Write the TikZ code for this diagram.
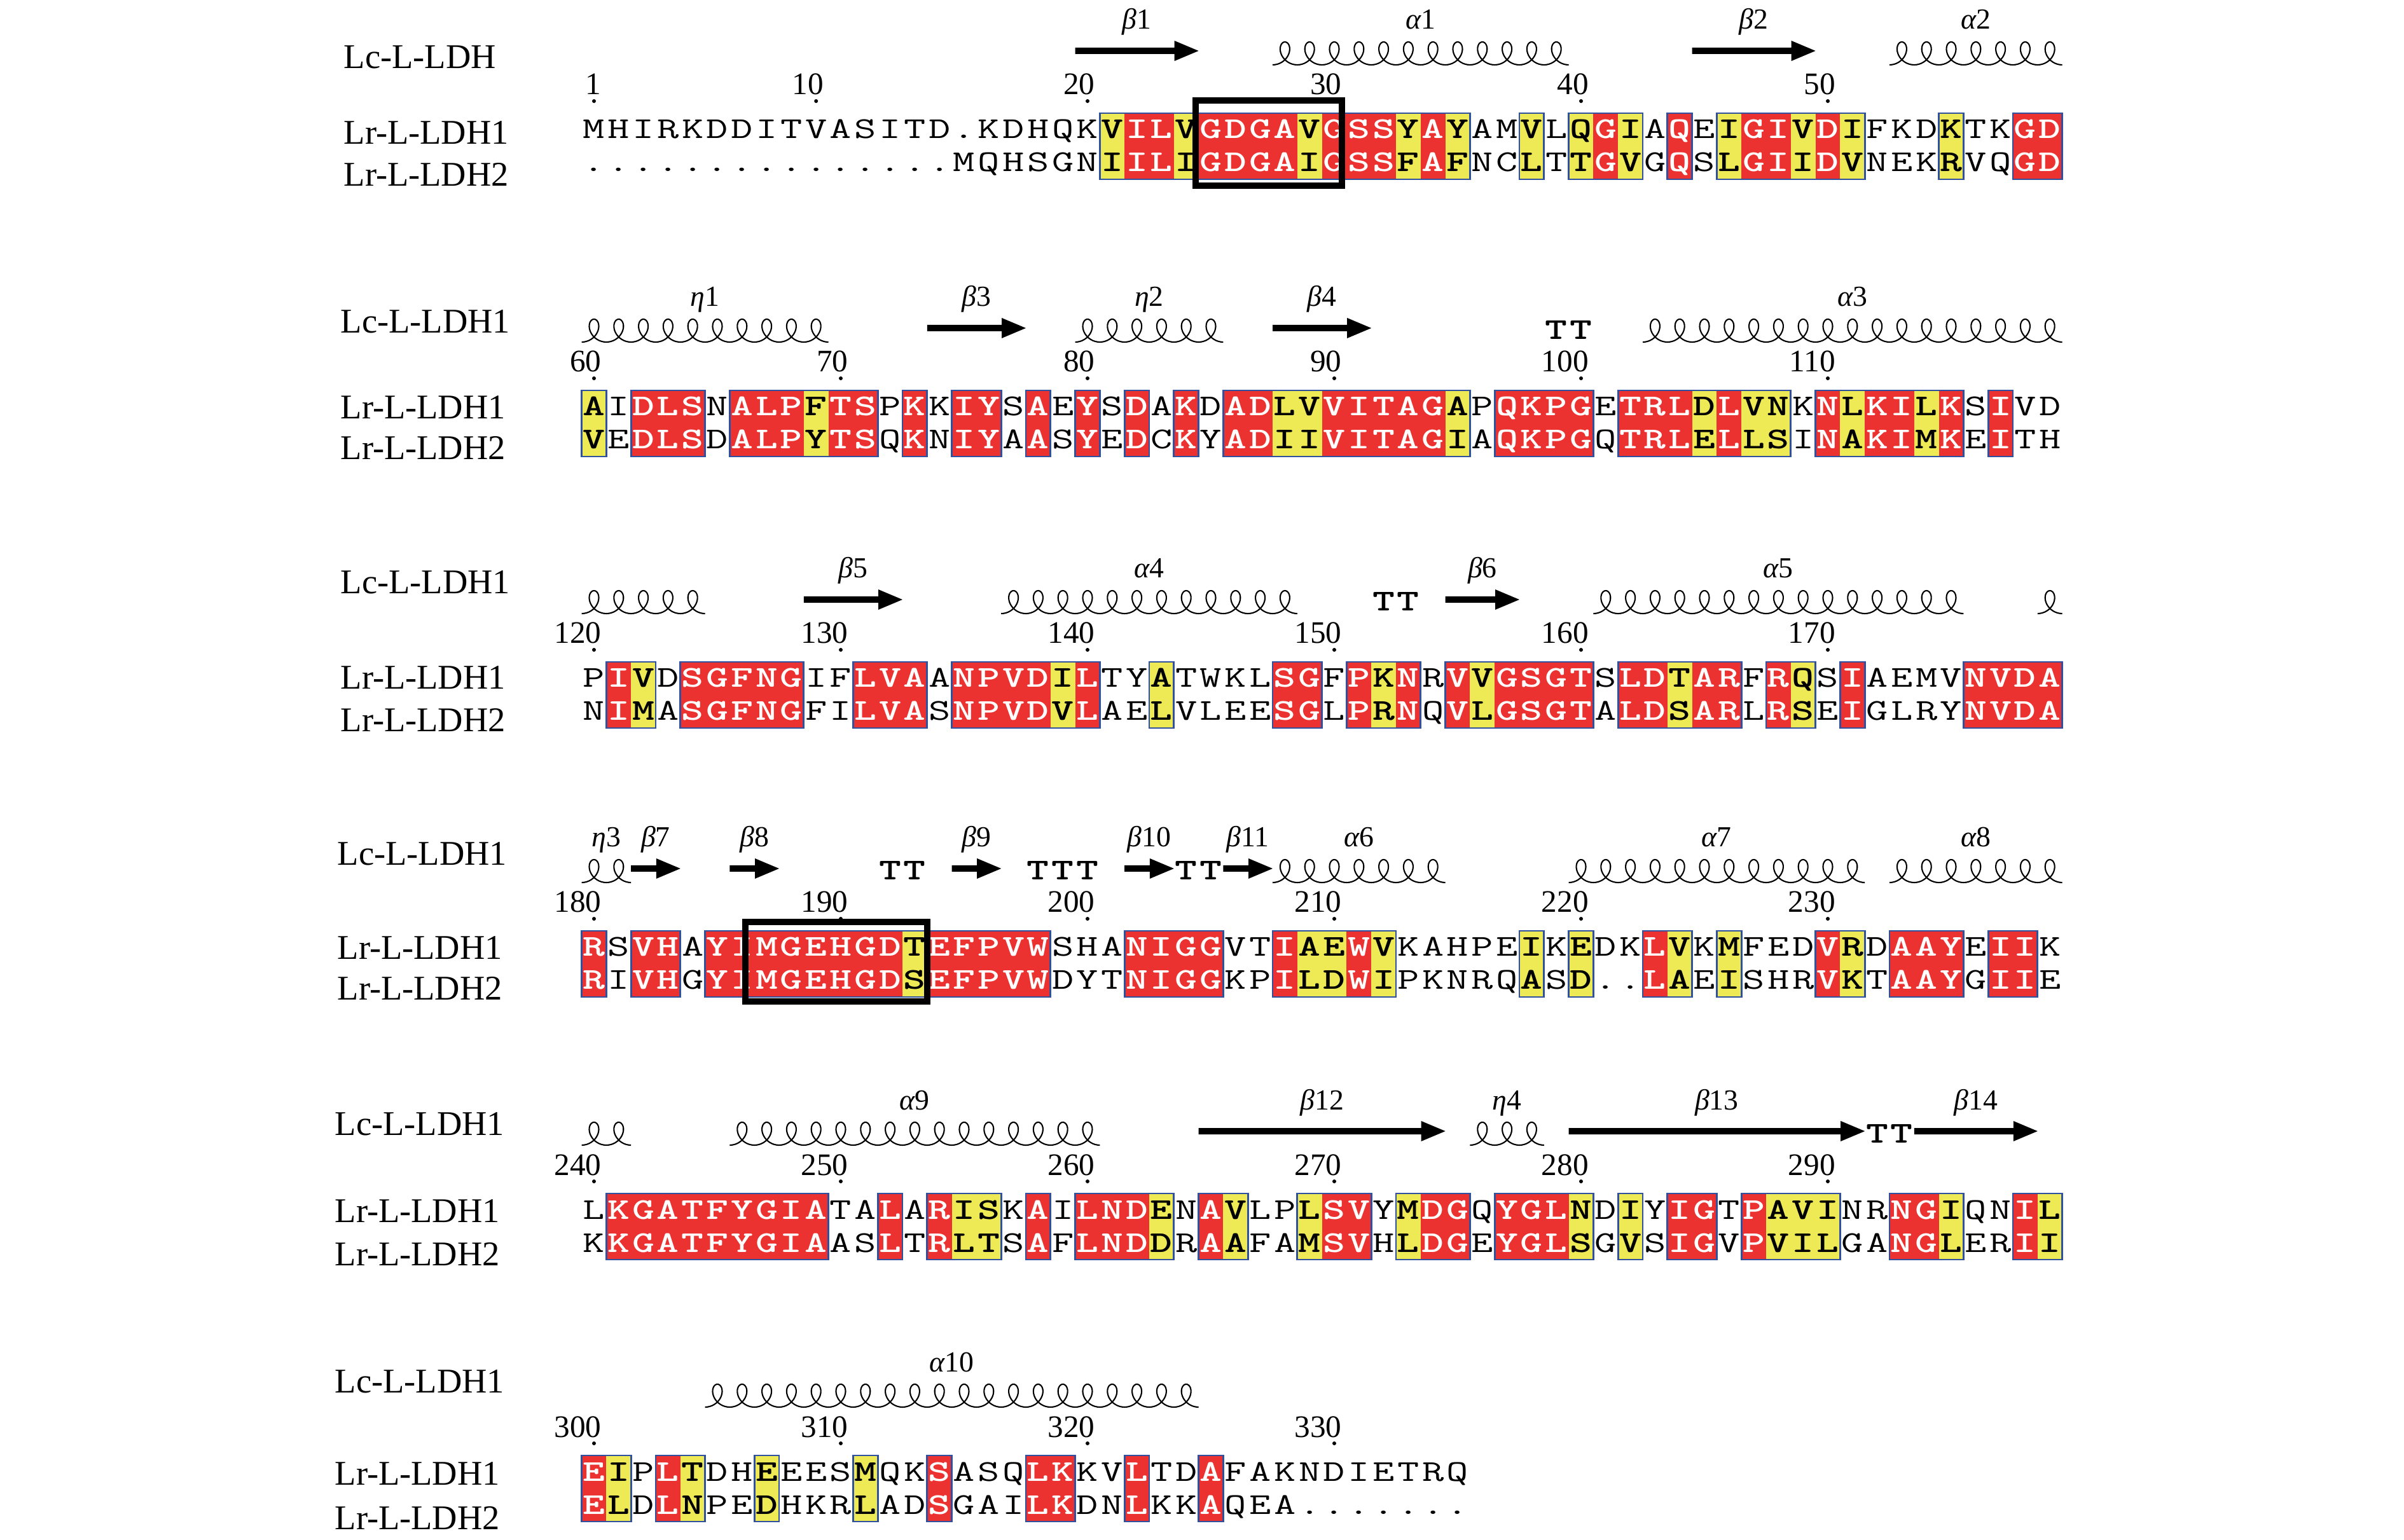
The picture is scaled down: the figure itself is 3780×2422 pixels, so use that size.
\documentclass[tikz,border=0pt]{standalone}
\usepackage{fontspec}
\setmainfont{Liberation Serif}
\usepackage{graphicx}
\usepackage{xstring}

\definecolor{identred}{RGB}{236,50,48}
\definecolor{simyellow}{RGB}{237,234,85}
\definecolor{groupblue}{RGB}{48,80,160}

\tikzset{
  seqname/.style={inner sep=0pt, font=\fontsize{15.5}{16}\selectfont},
  numtext/.style={inner sep=0pt, font=\fontsize{14}{14}\selectfont},
  sslab/.style={inner sep=0pt, font=\fontsize{13}{13}\selectfont},
  resplain/.style={inner sep=0pt, font=\fontsize{13.5}{14}\selectfont\ttfamily},
  resbold/.style={inner sep=0pt, font=\fontsize{13.5}{14}\selectfont\ttfamily\bfseries},
  helixline/.style={line width=0.6pt, line join=round},
  groupline/.style={groupblue, line width=0.8pt, line cap=rect},
  motifbox/.style={line width=2.8pt},
}

\newcommand{\gk}[1]{{\itshape #1}}
\newcommand{\wide}[1]{\scalebox{1.4}[1]{#1}}

% two aligned rows: id, y of first row, columns, sequences, codes (padded with n)
\newcommand{\alnrows}[6]{%
  \foreach \c in {1,...,#3}{
    \pgfmathtruncatemacro\ci{\c+1}
    \StrChar{#6}{\ci}[\kc]
    \pgfmathsetmacro\xc{934+(\c-1)*38.8}
    \if r\kc \fill[identred] (\xc-19.4,#2-26) rectangle (\xc+19.4,#2+78); \fi
    \if y\kc \fill[simyellow] (\xc-19.4,#2-26) rectangle (\xc+19.4,#2+78); \fi
  }
  \foreach \c in {1,...,#3}{
    \pgfmathtruncatemacro\cq{\c}
    \pgfmathtruncatemacro\ci{\c+1}
    \pgfmathtruncatemacro\cs{\c+2}
    \StrChar{#6}{\cq}[\kp]
    \StrChar{#6}{\ci}[\kc]
    \StrChar{#6}{\cs}[\kn]
    \StrChar{#4}{\c}[\ra]
    \StrChar{#5}{\c}[\rb]
    \pgfmathsetmacro\xc{934+(\c-1)*38.8}
    \if n\kc
      \node[resplain, anchor=base] (#1a\c) at (\xc,#2+14) {\wide{\ra}};
      \node[resplain, anchor=base] (#1b\c) at (\xc,#2+66) {\wide{\rb}};
    \else
      \draw[groupline] (\xc-19.4,#2-26) -- (\xc+19.4,#2-26);
      \draw[groupline] (\xc-19.4,#2+78) -- (\xc+19.4,#2+78);
      \if n\kp \draw[groupline] (\xc-19.4,#2-26) -- (\xc-19.4,#2+78); \fi
      \if n\kn \draw[groupline] (\xc+19.4,#2-26) -- (\xc+19.4,#2+78); \fi
      \if r\kc \def\rescol{white}\else\def\rescol{black}\fi
      \node[resbold, text=\rescol, anchor=base] (#1a\c) at (\xc,#2+14) {\wide{\ra}};
      \node[resbold, text=\rescol, anchor=base] (#1b\c) at (\xc,#2+66) {\wide{\rb}};
    \fi
  }
}

\newcommand{\postick}[4]{%
  \pgfmathsetmacro\xc{934+(#3-1)*38.8}
  \node[numtext, anchor=base east] (#1) at (\xc+12.3,#2-55) {#4};
  \fill (\xc,#2-45) circle[radius=0.03cm];
}

\newcommand{\blockticks}[4]{%
  \foreach \k in {1,...,#4}{
    \pgfmathtruncatemacro\tc{10*(\k-1)+1}
    \pgfmathtruncatemacro\tn{#3+10*(\k-1)}
    \postick{#1n\k}{#2}{\tc}{\tn}
  }
}

\newcommand{\ssstrand}[5]{%
  \pgfmathsetmacro\xa{934+(#3-1)*38.8-19.4}
  \pgfmathsetmacro\xb{934+(#4-1)*38.8+19.4}
  \fill (\xa,#2-129) -- (\xb-38,#2-129) -- (\xb-38,#2-140) -- (\xb,#2-124)
    -- (\xb-38,#2-108) -- (\xb-38,#2-119) -- (\xa,#2-119) -- cycle;
  \node[sslab, anchor=base] (#1) at ({(\xa+\xb)/2},#2-158) {#5};
}

% one loop per residue
\newcommand{\sshelix}[5]{%
  \pgfmathsetmacro\xa{934+(#3-1)*38.8-19.4}
  \pgfmathsetmacro\xb{934+(#4-1)*38.8+19.4}
  \pgfmathsetmacro\tend{360*(#4-#3+1)}
  \pgfmathtruncatemacro\nsmp{36*(#4-#3+1)+1}
  \draw[helixline] plot[domain=0:\tend, samples=\nsmp, smooth]
    ({\xa+0.107774*\x+16*sin(\x)},{#2-120+18*cos(\x)});
  \node[sslab, anchor=base] (#1) at ({(\xa+\xb)/2},#2-158) {#5};
}

\newcommand{\ssturn}[3]{%
  \pgfmathsetmacro\xc{934+(#3-1)*38.8}
  \node[resbold, anchor=base] (#1) at (\xc,#2-106) {\wide{T}};
}

\begin{document}
\begin{tikzpicture}[x=0.01cm, y=-0.01cm]
\useasboundingbox (0,0) rectangle (3780,2422);

% block 1
\node[seqname, anchor=base west] (lc1) at (540,108) {Lc-L-LDH};
\node[seqname, anchor=base west] (lra1) at (540,227) {Lr-L-LDH1};
\node[seqname, anchor=base west] (lrb1) at (540,293) {Lr-L-LDH2};
\alnrows{b1}{204}{60}{MHIRKDDITVASITD.KDHQKVILVGDGAVGSSYAYAMVLQGIAQEIGIVDIFKDKTKGD}{...............MQHSGNIILIGDGAIGSSFAFNCLTTGVGQSLGIIDVNEKRVQGD}{nnnnnnnnnnnnnnnnnnnnnnyrryrrrryrrryrynnynyrynrnyrryrynnnynnrrn}
\postick{b1n0}{204}{1}{1}
\postick{b1n1}{204}{10}{10}
\foreach \k in {2,...,5}{
  \pgfmathtruncatemacro\tc{10*\k+1}
  \pgfmathtruncatemacro\tn{10*\k}
  \postick{b1n\k}{204}{\tc}{\tn}
}
\ssstrand{b1s1}{204}{21}{25}{\gk{β}1}
\sshelix{b1h1}{204}{29}{40}{\gk{α}1}
\ssstrand{b1s2}{204}{46}{50}{\gk{β}2}
\sshelix{b1h2}{204}{54}{60}{\gk{α}2}

% block 2
\node[seqname, anchor=base west] (lc2) at (535,524) {Lc-L-LDH1};
\node[seqname, anchor=base west] (lra2) at (535,659) {Lr-L-LDH1};
\node[seqname, anchor=base west] (lrb2) at (535,723) {Lr-L-LDH2};
\alnrows{b2}{640}{60}{AIDLSNALPFTSPKKIYSAEYSDAKDADLVVITAGAPQKPGETRLDLVNKNLKILKSIVD}{VEDLSDALPYTSQKNIYAASYEDCKYADIIVITAGIAQKPGQTRLELLSINAKIMKEITH}{nynrrrnrrryrrnrnrrnrnrnrnrnrryyrrrrrynrrrrnrrryryynryrryrnrnnn}
\blockticks{b2}{640}{60}{6}
\sshelix{b2h1}{640}{1}{10}{\gk{η}1}
\ssstrand{b2s3}{640}{15}{18}{\gk{β}3}
\sshelix{b2h2}{640}{21}{26}{\gk{η}2}
\ssstrand{b2s4}{640}{29}{32}{\gk{β}4}
\ssturn{b2t1}{640}{40}
\ssturn{b2t2}{640}{41}
\sshelix{b2h3}{640}{44}{60}{\gk{α}3}

% block 3
\node[seqname, anchor=base west] (lc3) at (535,934) {Lc-L-LDH1};
\node[seqname, anchor=base west] (lra3) at (535,1084) {Lr-L-LDH1};
\node[seqname, anchor=base west] (lrb3) at (535,1151) {Lr-L-LDH2};
\alnrows{b3}{1067}{60}{PIVDSGFNGIFLVAANPVDILTYATWKLSGFPKNRVVGSGTSLDTARFRQSIAEMVNVDA}{NIMASGFNGFILVASNPVDVLAELVLEESGLPRNQVLGSGTALDSARLRSEIGLRYNVDA}{nnrynrrrrrnnrrrnrrrryrnnynnnnrrnryrnryrrrrnrryrrnrynrnnnnrrrrn}
\blockticks{b3}{1067}{120}{6}
\sshelix{b3h0}{1067}{1}{5}{}
\ssstrand{b3s5}{1067}{10}{13}{\gk{β}5}
\sshelix{b3h4}{1067}{18}{29}{\gk{α}4}
\ssturn{b3t1}{1067}{33}
\ssturn{b3t2}{1067}{34}
\ssstrand{b3s6}{1067}{36}{38}{\gk{β}6}
\sshelix{b3h5}{1067}{42}{56}{\gk{α}5}
\sshelix{b3h6}{1067}{60}{60}{}

% block 4
\node[seqname, anchor=base west] (lc4) at (530,1361) {Lc-L-LDH1};
\node[seqname, anchor=base west] (lra4) at (530,1508) {Lr-L-LDH1};
\node[seqname, anchor=base west] (lrb4) at (530,1573) {Lr-L-LDH2};
\alnrows{b4}{1490}{60}{RSVHAYIMGEHGDTEFPVWSHANIGGVTIAEWVKAHPEIKEDKLVKMFEDVRDAAYEIIK}{RIVHGYIMGEHGDSEFPVWDYTNIGGKPILDWIPKNRQASD..LAEISHRVKTAAYGIIE}{nrnrrnrrrrrrrryrrrrrnnnrrrrnnryyrynnnnnynynnrynynnnrynrrrnrrnn}
\blockticks{b4}{1490}{180}{6}
\sshelix{b4h1}{1490}{1}{2}{\gk{η}3}
\ssstrand{b4s7}{1490}{3}{4}{\gk{β}7}
\ssstrand{b4s8}{1490}{7}{8}{\gk{β}8}
\ssturn{b4t1}{1490}{13}
\ssturn{b4t2}{1490}{14}
\ssstrand{b4s9}{1490}{16}{17}{\gk{β}9}
\ssturn{b4t3}{1490}{19}
\ssturn{b4t4}{1490}{20}
\ssturn{b4t5}{1490}{21}
\ssstrand{b4s10}{1490}{23}{24}{\gk{β}10}
\ssturn{b4t6}{1490}{25}
\ssturn{b4t7}{1490}{26}
\ssstrand{b4s11}{1490}{27}{28}{\gk{β}11}
\sshelix{b4h6}{1490}{29}{35}{\gk{α}6}
\sshelix{b4h7}{1490}{41}{52}{\gk{α}7}
\sshelix{b4h8}{1490}{54}{60}{\gk{α}8}

% block 5
\node[seqname, anchor=base west] (lc5) at (526,1785) {Lc-L-LDH1};
\node[seqname, anchor=base west] (lra5) at (526,1922) {Lr-L-LDH1};
\node[seqname, anchor=base west] (lrb5) at (526,1990) {Lr-L-LDH2};
\alnrows{b5}{1903}{60}{LKGATFYGIATALARISKAILNDENAVLPLSVYMDGQYGLNDIYIGTPAVINRNGIQNIL}{KKGATFYGIAASLTRLTSAFLNDDRAAFAMSVHLDGEYGLSGVSIGVPVILGANGLERII}{nnrrrrrrrrrnnrnryynrnrrrynrynnyrrnyrrnrrrynynrrnryyynnrrynnryn}
\blockticks{b5}{1903}{240}{6}
\sshelix{b5h0}{1903}{1}{2}{}
\sshelix{b5h9}{1903}{7}{21}{\gk{α}9}
\ssstrand{b5s12}{1903}{26}{35}{\gk{β}12}
\sshelix{b5h4}{1903}{37}{39}{\gk{η}4}
\ssstrand{b5s13}{1903}{41}{52}{\gk{β}13}
\ssturn{b5t1}{1903}{53}
\ssturn{b5t2}{1903}{54}
\ssstrand{b5s14}{1903}{55}{59}{\gk{β}14}

% block 6
\node[seqname, anchor=base west] (lc6) at (526,2190) {Lc-L-LDH1};
\node[seqname, anchor=base west] (lra6) at (526,2335) {Lr-L-LDH1};
\node[seqname, anchor=base west] (lrb6) at (526,2405) {Lr-L-LDH2};
\alnrows{b6}{2315}{36}{EIPLTDHEEESMQKSASQLKKVLTDAFAKNDIETRQ}{ELDLNPEDHKRLADSGAILKDNLKKAQEA.......}{nrynrynnynnnynnrnnnrrnnrnnrnnnnnnnnnnn}
\blockticks{b6}{2315}{300}{4}
\sshelix{b6h10}{2315}{6}{25}{\gk{α}10}

% boxed motifs
\draw[motifbox] (1880,158) rectangle (2110,292);
\draw[motifbox] (1172,1450) rectangle (1458,1575);
\end{tikzpicture}
\end{document}
